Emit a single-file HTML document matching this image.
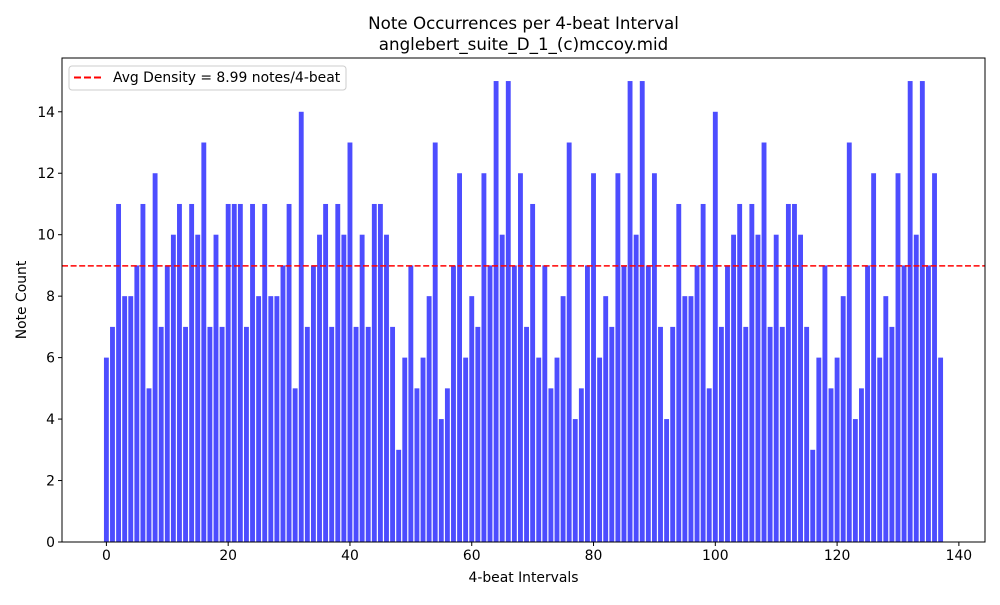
<!DOCTYPE html>
<html><head><meta charset="utf-8"><style>
body{margin:0;background:#fff;}
svg text{font-family:"DejaVu Sans","Liberation Sans",sans-serif;fill:#000;}
</style></head><body>
<svg id="chart" width="1000" height="600" xmlns="http://www.w3.org/2000/svg">
<rect x="0" y="0" width="1000" height="600" fill="#fff"/>
<text x="523.5" y="29" font-size="16.7" text-anchor="middle">Note Occurrences per 4-beat Interval</text>
<text x="523.5" y="50" font-size="16.7" text-anchor="middle">anglebert_suite_D_1_(c)mccoy.mid</text>
<g id="bars"></g>
<g id="avgline"></g>
<g id="xaxis"></g>
<g id="yaxis"></g>
<rect x="62" y="58" width="923" height="484" fill="none" stroke="#000" stroke-width="1"/>
<text x="523.5" y="582" font-size="13.9" text-anchor="middle">4-beat Intervals</text>
<text transform="translate(26,300) rotate(-90)" font-size="13.9" text-anchor="middle">Note Count</text>
<g>
<rect x="69" y="66" width="277" height="24" rx="3" fill="#fff" fill-opacity="0.8" stroke="#ccc"/>
<line x1="74" y1="77.5" x2="102" y2="77.5" stroke="#f00" stroke-width="2" stroke-dasharray="7,3"/>
<text id="legend-text" x="113" y="82" font-size="13.9"></text>
</g>
</svg>
<script>
const counts=[6,7,11,8,8,9,11,5,12,7,9,10,11,7,11,10,13,7,10,7,11,11,11,7,11,8,11,8,8,9,11,5,14,7,9,10,11,7,11,10,13,7,10,7,11,11,10,7,3,6,9,5,6,8,13,4,5,9,12,6,8,7,12,9,15,10,15,9,12,7,11,6,9,5,6,8,13,4,5,9,12,6,8,7,12,9,15,10,15,9,12,7,4,7,11,8,8,9,11,5,14,7,9,10,11,7,11,10,13,7,10,7,11,11,10,7,3,6,9,5,6,8,13,4,5,9,12,6,8,7,12,9,15,10,15,9,12,6];
const xTicks=[0,20,40,60,80,100,120,140];
const yTicks=[0,2,4,6,8,10,12,14];
const NS="http://www.w3.org/2000/svg";
const L=62,R=985,T=58,B=542;
const n=counts.length;
const xmin=-0.4-(n-0.2)*0.05, xmax=n-1+0.4+(n-0.2)*0.05;
const ymax=Math.max(...counts)*1.05;
const sx=v=>L+(v-xmin)/(xmax-xmin)*(R-L);
const sy=v=>B-v/ymax*(B-T);
function mk(tag,attrs,parent){const e=document.createElementNS(NS,tag);for(const k in attrs)e.setAttribute(k,attrs[k]);parent.appendChild(e);return e;}
const bars=document.getElementById('bars');
counts.forEach((c,i)=>{
  const r=mk('rect',{x:sx(i-0.4),y:sy(c),width:sx(i+0.4)-sx(i-0.4),height:B-sy(c),fill:'#4d4dff'},bars);
  
  
});
const avg=counts.reduce((a,b)=>a+b,0)/n;
const al=mk('line',{x1:L,x2:R,y1:sy(avg),y2:sy(avg),stroke:'#f00','stroke-width':1.6,'stroke-dasharray':'6,2.6'},document.getElementById('avgline'));


document.getElementById('legend-text').textContent='Avg Density = '+avg.toFixed(2)+' notes/4-beat';
const xa=document.getElementById('xaxis');
xTicks.forEach(t=>{
  const x=sx(t);
  const tk=mk('line',{x1:x,x2:x,y1:B,y2:B+4,stroke:'#000'},xa);
  
  
  const tx=mk('text',{x:x,y:B+18,'font-size':13.9,'text-anchor':'middle'},xa);
  tx.textContent=t;
  
  
});
const ya=document.getElementById('yaxis');
yTicks.forEach(t=>{
  const y=sy(t);
  const tk=mk('line',{x1:L-4,x2:L,y1:y,y2:y,stroke:'#000'},ya);
  
  
  const tx=mk('text',{x:L-7,y:y+5,'font-size':13.9,'text-anchor':'end'},ya);
  tx.textContent=t;
  
  
});
</script>
</body></html>
